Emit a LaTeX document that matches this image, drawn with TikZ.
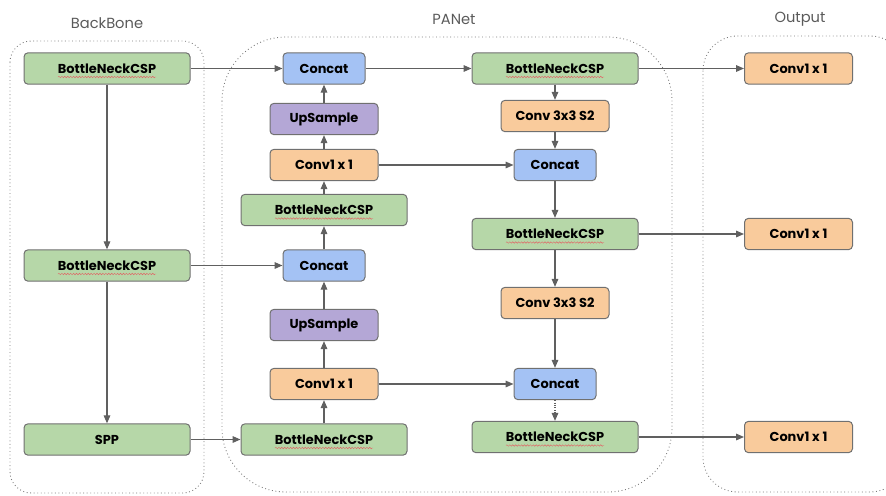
\documentclass[tikz,border=0pt]{standalone}
\usepackage{fontspec}
\setmainfont{Poppins}
\usetikzlibrary{arrows.meta,decorations.pathmorphing}
\definecolor{gbox}{HTML}{B6D7A8}
\definecolor{bbox}{HTML}{A4C2F4}
\definecolor{pbox}{HTML}{B4A7D6}
\definecolor{obox}{HTML}{F9CB9C}
\definecolor{bordergray}{HTML}{707070}
\definecolor{arrowgray}{HTML}{606060}
\definecolor{contgray}{HTML}{7A7A7A}
\definecolor{labgray}{HTML}{5A5A5A}
\definecolor{squigred}{HTML}{E06666}
\newcommand\squig[1]{\draw[squiggle] ([shift={(-49,8.5)}]#1.center) -- ([shift={(49,8.5)}]#1.center);}
\begin{document}
\begin{tikzpicture}[x=0.75pt,y=-0.75pt,
  box/.style={draw=bordergray, line width=0.75pt, rounded corners=3pt, inner sep=0pt,
    minimum height=23.5pt, font=\bfseries\fontsize{9.7}{10}\selectfont, text=black},
  widebox/.style={box, fill=gbox, minimum width=124.5pt},
  catbox/.style={box, fill=bbox, minimum width=61.5pt},
  upbox/.style={box, fill=pbox, minimum width=81pt},
  convbox/.style={box, fill=obox, minimum width=81pt},
  container/.style={draw=contgray, line width=0.65pt, dotted},
  lab/.style={font=\fontsize{11}{12}\selectfont, text=labgray},
  arr/.style={draw=arrowgray, line width=0.8pt, -{Triangle[length=6pt,width=5pt]}},
  squiggle/.style={draw=squigred, line width=0.35pt, decorate,
    decoration={snake, segment length=2.2pt, amplitude=0.55pt}}
]
\useasboundingbox (0,0) rectangle (886,496);
\clip (0,0) rectangle (886,496);

% containers
\draw[container, rounded corners=16pt] (10,41) rectangle (204,493);
\draw[container, rounded corners=48pt] (222,37) rectangle (672,492);
\draw[container, rounded corners=26pt] (703,36) rectangle (905,492);

\node[lab] (lbb) at (107,23) {BackBone};
\node[lab] (lpa) at (454,19) {PANet};
\node[lab] (lout) at (800,19) {Output};

% backbone
\node[widebox] (bb1) at (107,68.5) {BottleNeckCSP};
\node[widebox] (bb2) at (107,265.5) {BottleNeckCSP};
\node[widebox] (spp) at (107,439.5) {SPP};

% PANet left column
\node[catbox] (cat1) at (324,68.5) {Concat};
\node[upbox] (up1) at (324,119) {UpSample};
\node[convbox] (cva) at (324,165) {Conv1 x 1};
\node[widebox] (p1) at (324,210) {BottleNeckCSP};
\node[catbox] (cat2) at (324,265.5) {Concat};
\node[upbox] (up2) at (324,325) {UpSample};
\node[convbox] (cvb) at (324,384) {Conv1 x 1};
\node[widebox] (p2) at (324,439.5) {BottleNeckCSP};

% PANet right column
\node[widebox] (r1) at (555,68.5) {BottleNeckCSP};
\node[convbox] (s1) at (555,116) {Conv 3x3 S2};
\node[catbox] (rc1) at (555,165) {Concat};
\node[widebox] (r2) at (555,234) {BottleNeckCSP};
\node[convbox] (s2) at (555,303) {Conv 3x3 S2};
\node[catbox] (rc2) at (555,384) {Concat};
\node[widebox] (r3) at (555,437) {BottleNeckCSP};

% outputs
\node[convbox] (o1) at (798.5,68.5) {Conv1 x 1};
\node[convbox] (o2) at (798.5,234) {Conv1 x 1};
\node[convbox] (o3) at (798.5,437) {Conv1 x 1};

% spell-check squiggles
\squig{bb1}\squig{bb2}\squig{p1}\squig{p2}\squig{r1}\squig{r2}\squig{r3}

% connectors
\draw[arr] (bb1) -- (bb2);
\draw[arr] (bb2) -- (spp);
\draw[arr] (bb1) -- (cat1);
\draw[arr] (bb2) -- (cat2);
\draw[arr] (spp) -- (p2);
\draw[arr] (p2) -- (cvb);
\draw[arr] (cvb) -- (up2);
\draw[arr] (up2) -- (cat2);
\draw[arr] (cat2) -- (p1);
\draw[arr] (p1) -- (cva);
\draw[arr] (cva) -- (up1);
\draw[arr] (up1) -- (cat1);
\draw[arr] (cat1) -- (r1);
\draw[arr] (r1) -- (s1);
\draw[arr] (s1) -- (rc1);
\draw[arr] (rc1) -- (r2);
\draw[arr] (r2) -- (s2);
\draw[arr] (s2) -- (rc2);
\draw[arr, densely dotted] (rc2) -- (r3);
\draw[arr] (cva) -- (rc1);
\draw[arr] (cvb) -- (rc2);
\draw[arr] (r1) -- (o1);
\draw[arr] (r2) -- (o2);
\draw[arr] (r3) -- (o3);
\end{tikzpicture}
\end{document}
